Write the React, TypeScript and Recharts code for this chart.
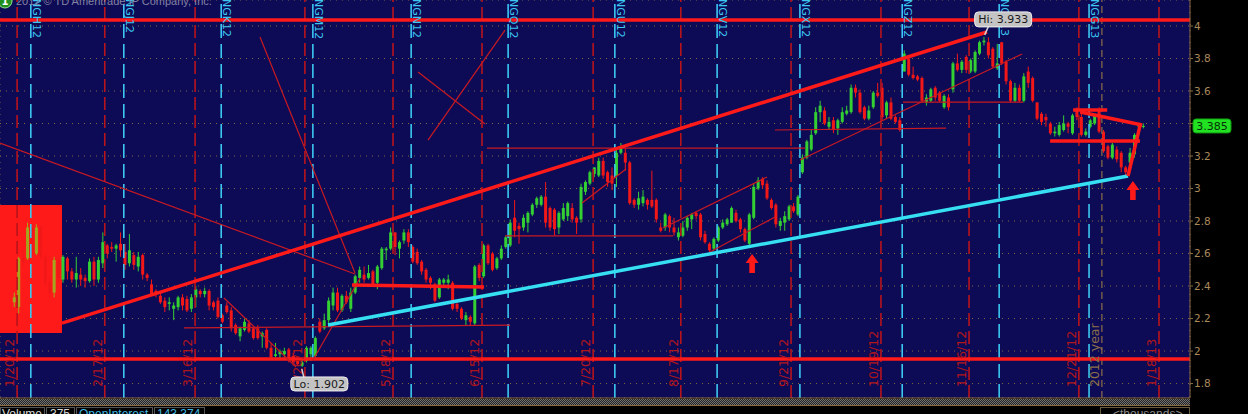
import React from "react";
import {
  ComposedChart,
  Bar,
  XAxis,
  YAxis,
  CartesianGrid,
  ReferenceLine,
  ReferenceArea,
  ReferenceDot,
} from "recharts";

type Seg = [number, number, number, number];

// daily NG bars [open, high, low, close], bar 0 is the week of the 1/20/12 expiry
const bars: [number, number, number, number][] = [
  [2.30, 2.36, 2.27, 2.33], [2.27, 2.58, 2.23, 2.57], [2.57, 2.62, 2.52, 2.55], [2.57, 2.79, 2.56, 2.76],
  [2.76, 2.79, 2.59, 2.62], [2.60, 2.78, 2.59, 2.76], [2.76, 2.77, 2.56, 2.58], [2.58, 2.60, 2.40, 2.42],
  [2.42, 2.45, 2.33, 2.36], [2.36, 2.58, 2.33, 2.56], [2.55, 2.57, 2.43, 2.45], [2.44, 2.59, 2.42, 2.58],
  [2.57, 2.58, 2.44, 2.49], [2.49, 2.51, 2.42, 2.44], [2.44, 2.58, 2.39, 2.48], [2.47, 2.51, 2.40, 2.44],
  [2.45, 2.47, 2.39, 2.43], [2.43, 2.57, 2.42, 2.55], [2.55, 2.58, 2.40, 2.44], [2.44, 2.58, 2.42, 2.56],
  [2.54, 2.73, 2.51, 2.67], [2.65, 2.66, 2.57, 2.60], [2.64, 2.67, 2.61, 2.63], [2.63, 2.66, 2.55, 2.65],
  [2.66, 2.73, 2.58, 2.62], [2.61, 2.66, 2.50, 2.53], [2.54, 2.72, 2.52, 2.62], [2.59, 2.61, 2.50, 2.53],
  [2.52, 2.61, 2.49, 2.58], [2.59, 2.60, 2.44, 2.47], [2.47, 2.48, 2.43, 2.45], [2.41, 2.44, 2.34, 2.35],
  [2.37, 2.38, 2.33, 2.35], [2.34, 2.36, 2.29, 2.30], [2.31, 2.33, 2.24, 2.27], [2.29, 2.33, 2.25, 2.30],
  [2.26, 2.30, 2.19, 2.28], [2.27, 2.34, 2.25, 2.33], [2.33, 2.35, 2.25, 2.28], [2.32, 2.34, 2.24, 2.25],
  [2.26, 2.35, 2.24, 2.33], [2.33, 2.40, 2.27, 2.38], [2.37, 2.38, 2.33, 2.35], [2.35, 2.39, 2.33, 2.37],
  [2.37, 2.38, 2.25, 2.28], [2.30, 2.31, 2.25, 2.27], [2.31, 2.33, 2.20, 2.21], [2.22, 2.23, 2.17, 2.18],
  [2.28, 2.30, 2.23, 2.24], [2.25, 2.27, 2.12, 2.14], [2.16, 2.17, 2.10, 2.11], [2.09, 2.15, 2.06, 2.14],
  [2.13, 2.20, 2.12, 2.18], [2.17, 2.19, 2.11, 2.12], [2.14, 2.15, 2.07, 2.08], [2.14, 2.16, 2.07, 2.08],
  [2.09, 2.12, 2.02, 2.11], [2.13, 2.14, 2.01, 2.02], [2.02, 2.05, 1.96, 1.96], [1.97, 2.05, 1.96, 1.98],
  [1.98, 2.01, 1.95, 2.00], [1.98, 2.02, 1.96, 2.00], [2.01, 2.02, 1.93, 1.95], [1.97, 1.99, 1.91, 1.93],
  [1.95, 1.96, 1.91, 1.92], [1.91, 1.95, 1.902, 1.93], [1.94, 2.03, 1.93, 2.02], [1.98, 2.03, 1.94, 2.02],
  [1.97, 2.09, 1.96, 2.08], [2.18, 2.20, 2.11, 2.12], [2.14, 2.23, 2.13, 2.19], [2.19, 2.33, 2.15, 2.31],
  [2.28, 2.39, 2.25, 2.36], [2.36, 2.39, 2.24, 2.25], [2.25, 2.35, 2.24, 2.34], [2.34, 2.37, 2.29, 2.30],
  [2.26, 2.39, 2.24, 2.36], [2.36, 2.47, 2.35, 2.46], [2.45, 2.52, 2.42, 2.50], [2.47, 2.52, 2.42, 2.44],
  [2.45, 2.53, 2.44, 2.48], [2.49, 2.50, 2.40, 2.41], [2.42, 2.53, 2.38, 2.52], [2.51, 2.64, 2.50, 2.63],
  [2.62, 2.64, 2.56, 2.63], [2.63, 2.76, 2.62, 2.73], [2.73, 2.73, 2.59, 2.64], [2.63, 2.68, 2.57, 2.67],
  [2.68, 2.75, 2.66, 2.73], [2.73, 2.75, 2.64, 2.67], [2.64, 2.65, 2.54, 2.55], [2.61, 2.63, 2.53, 2.54],
  [2.55, 2.56, 2.47, 2.49], [2.50, 2.51, 2.42, 2.44], [2.45, 2.46, 2.38, 2.42], [2.41, 2.42, 2.30, 2.31],
  [2.33, 2.45, 2.32, 2.44], [2.42, 2.45, 2.39, 2.44], [2.42, 2.47, 2.38, 2.44], [2.42, 2.43, 2.25, 2.26],
  [2.29, 2.30, 2.24, 2.26], [2.26, 2.27, 2.19, 2.20], [2.19, 2.24, 2.16, 2.22], [2.21, 2.22, 2.16, 2.18],
  [2.17, 2.53, 2.16, 2.52], [2.53, 2.54, 2.43, 2.45], [2.46, 2.66, 2.45, 2.65], [2.65, 2.66, 2.53, 2.54],
  [2.60, 2.61, 2.49, 2.50], [2.51, 2.58, 2.50, 2.57], [2.57, 2.65, 2.56, 2.63], [2.64, 2.71, 2.63, 2.70],
  [2.65, 2.81, 2.64, 2.79], [2.82, 2.93, 2.70, 2.74], [2.77, 2.79, 2.66, 2.75], [2.76, 2.84, 2.74, 2.82],
  [2.79, 2.86, 2.73, 2.85], [2.84, 2.91, 2.83, 2.90], [2.90, 2.95, 2.88, 2.94], [2.90, 2.96, 2.89, 2.95],
  [2.95, 3.04, 2.76, 2.79], [2.88, 2.89, 2.74, 2.76], [2.87, 2.88, 2.71, 2.75], [2.76, 2.86, 2.72, 2.85],
  [2.81, 2.91, 2.80, 2.88], [2.83, 2.92, 2.80, 2.91], [2.88, 2.91, 2.79, 2.81], [2.82, 2.83, 2.72, 2.79],
  [2.81, 3.03, 2.79, 3.01], [2.98, 3.05, 2.96, 3.04], [3.03, 3.11, 3.02, 3.10], [3.09, 3.13, 3.07, 3.13],
  [3.08, 3.19, 3.07, 3.17], [3.17, 3.19, 3.06, 3.08], [3.10, 3.11, 3.01, 3.04], [3.08, 3.13, 2.99, 3.03],
  [3.08, 3.24, 3.01, 3.22], [3.22, 3.28, 3.21, 3.25], [3.22, 3.25, 3.11, 3.16], [3.16, 3.17, 2.90, 2.91],
  [2.93, 2.94, 2.88, 2.90], [2.90, 2.98, 2.87, 2.94], [2.91, 2.99, 2.89, 2.95], [2.93, 2.94, 2.87, 2.90],
  [2.93, 3.11, 2.88, 2.89], [2.93, 2.94, 2.79, 2.81], [2.76, 2.79, 2.73, 2.74], [2.76, 2.85, 2.74, 2.84],
  [2.83, 2.84, 2.73, 2.76], [2.76, 2.82, 2.71, 2.73], [2.70, 2.76, 2.68, 2.73], [2.71, 2.80, 2.70, 2.76],
  [2.76, 2.83, 2.74, 2.82], [2.81, 2.85, 2.75, 2.84], [2.85, 2.86, 2.81, 2.83], [2.84, 2.85, 2.68, 2.70],
  [2.72, 2.74, 2.66, 2.67], [2.66, 2.67, 2.61, 2.62], [2.63, 2.70, 2.62, 2.69], [2.68, 2.77, 2.67, 2.76],
  [2.76, 2.81, 2.75, 2.79], [2.78, 2.82, 2.77, 2.81], [2.79, 2.89, 2.79, 2.88], [2.85, 2.87, 2.79, 2.80],
  [2.81, 2.82, 2.73, 2.75], [2.75, 2.76, 2.67, 2.68], [2.66, 2.85, 2.65, 2.84], [2.82, 3.03, 2.81, 3.01],
  [3.00, 3.07, 2.99, 3.05], [3.06, 3.07, 3.00, 3.02], [3.03, 3.05, 2.93, 2.94], [2.93, 2.94, 2.87, 2.88],
  [2.90, 2.91, 2.76, 2.78], [2.77, 2.82, 2.74, 2.80], [2.79, 2.86, 2.74, 2.83], [2.81, 2.90, 2.80, 2.89],
  [2.89, 2.91, 2.85, 2.86], [2.84, 2.96, 2.83, 2.95], [3.10, 3.21, 3.09, 3.19], [3.19, 3.30, 3.18, 3.29],
  [3.24, 3.36, 3.23, 3.33], [3.34, 3.50, 3.33, 3.47], [3.47, 3.54, 3.41, 3.51], [3.48, 3.50, 3.39, 3.40],
  [3.38, 3.44, 3.36, 3.41], [3.42, 3.44, 3.34, 3.36], [3.37, 3.43, 3.33, 3.42], [3.41, 3.50, 3.40, 3.47],
  [3.46, 3.51, 3.45, 3.48], [3.47, 3.64, 3.46, 3.62], [3.62, 3.64, 3.56, 3.59], [3.59, 3.61, 3.46, 3.47],
  [3.50, 3.51, 3.42, 3.43], [3.43, 3.51, 3.42, 3.48], [3.50, 3.60, 3.49, 3.59], [3.59, 3.65, 3.56, 3.57],
  [3.62, 3.65, 3.42, 3.44], [3.45, 3.54, 3.43, 3.53], [3.53, 3.56, 3.42, 3.43], [3.44, 3.45, 3.40, 3.41],
  [3.42, 3.44, 3.35, 3.36], [3.72, 3.85, 3.72, 3.83], [3.80, 3.81, 3.69, 3.70], [3.70, 3.75, 3.67, 3.68],
  [3.69, 3.70, 3.66, 3.67], [3.68, 3.69, 3.53, 3.54], [3.53, 3.58, 3.51, 3.56], [3.54, 3.62, 3.53, 3.61],
  [3.62, 3.63, 3.54, 3.56], [3.59, 3.60, 3.53, 3.54], [3.50, 3.58, 3.49, 3.57], [3.56, 3.58, 3.48, 3.50],
  [3.61, 3.78, 3.59, 3.77], [3.77, 3.83, 3.72, 3.73], [3.73, 3.79, 3.71, 3.78], [3.81, 3.82, 3.71, 3.73],
  [3.72, 3.80, 3.71, 3.79], [3.72, 3.85, 3.71, 3.84], [3.83, 3.91, 3.82, 3.90], [3.90, 3.933, 3.88, 3.91],
  [3.90, 3.93, 3.80, 3.82], [3.86, 3.87, 3.74, 3.75], [3.74, 3.89, 3.73, 3.77], [3.90, 3.90, 3.76, 3.77],
  [3.78, 3.79, 3.64, 3.66], [3.66, 3.67, 3.53, 3.54], [3.54, 3.65, 3.53, 3.62], [3.62, 3.64, 3.53, 3.54],
  [3.54, 3.71, 3.53, 3.69], [3.72, 3.75, 3.62, 3.65], [3.68, 3.69, 3.53, 3.54], [3.53, 3.53, 3.42, 3.43],
  [3.46, 3.47, 3.39, 3.41], [3.44, 3.46, 3.38, 3.42], [3.40, 3.41, 3.33, 3.34], [3.34, 3.38, 3.32, 3.35],
  [3.33, 3.41, 3.32, 3.39], [3.36, 3.45, 3.35, 3.40], [3.40, 3.41, 3.34, 3.38], [3.34, 3.46, 3.33, 3.45],
  [3.49, 3.50, 3.42, 3.44], [3.44, 3.46, 3.32, 3.33], [3.33, 3.37, 3.32, 3.35], [3.38, 3.43, 3.37, 3.42],
  [3.40, 3.46, 3.39, 3.45], [3.48, 3.50, 3.34, 3.35], [3.35, 3.36, 3.22, 3.23], [3.26, 3.27, 3.18, 3.19],
  [3.19, 3.28, 3.18, 3.27], [3.24, 3.26, 3.16, 3.18], [3.22, 3.23, 3.10, 3.13], [3.13, 3.14, 3.08, 3.10],
  [3.16, 3.25, 3.14, 3.22], [3.21, 3.34, 3.19, 3.33], [3.38, 3.39, 3.36, 3.39], [3.38, 3.40, 3.37, 3.385],
];

const priceTicks = [1.8, 2, 2.2, 2.4, 2.6, 2.8, 3, 3.2, 3.4, 3.6, 3.8, 4];

// bar positions of the calendar markers
const monthStarts = [7.7, 28.9, 50.6, 71.6, 94.6, 115.9, 137.5, 160.6, 180.5, 203.5, 225.6, 245.7];
const expiryBars = [0.7, 20.5, 40.9, 65.7, 85.6, 105.7, 130.8, 150.6, 175.5, 195.8, 215.7, 240.5, 258.6];
const expiryLabels = [
  "1/20/12", "2/17/12", "3/16/12", "4/20/12", "5/18/12", "6/15/12", "7/20/12",
  "8/17/12", "9/21/12", "10/19/12", "11/16/12", "12/21/12", "1/18/13",
];
const rollBars = [3.8, 24.8, 46.8, 67.5, 89.7, 111.6, 135.7, 158.8, 177.5, 200.6, 222.5, 242.8];
const rollLabels = [
  "NGH12", "NGJ12", "NGK12", "NGM12", "NGN12", "NGQ12",
  "NGU12", "NGV12", "NGX12", "NGZ12", "NGF13", "NGG13",
];
const yearBar = 245.7;

// hand drawn studies: [bar1, price1, bar2, price2]
const levelLines = [4.037, 1.951];
const boxZone: Seg = [-3.16, 2.111, 10.84, 2.898];
const thickLines: Seg[] = [
  [10.84, 2.172, 219.76, 3.963],
  [76.34, 2.406, 106.15, 2.394],
  [234.0, 3.292, 254.3, 3.292],
  [239.2, 3.483, 246.9, 3.483],
  [240.8, 3.471, 254.8, 3.391],
  [251.6, 3.077, 254.3, 3.385],
];
const supportLine: Seg = [70.92, 2.16, 251.6, 3.077];
const thinLines: Seg[] = [
  [-3.16, 3.28, 77.02, 2.474],
  [55.56, 3.932, 77.02, 2.48],
  [91.25, 3.717, 106.38, 3.397],
  [110.9, 3.975, 93.5, 3.298],
  [106.83, 3.249, 178.66, 3.249],
  [38.4, 2.142, 112.03, 2.16],
  [47.43, 2.326, 63.69, 1.902],
  [67.53, 1.945, 78.15, 2.449],
  [110.9, 2.708, 148.84, 2.708],
  [128.29, 2.911, 138.23, 3.12],
  [146.58, 2.757, 170.07, 3.071],
  [157.2, 2.609, 171.88, 2.825],
  [177.53, 3.175, 227.67, 3.828],
  [171.88, 3.36, 210.5, 3.372],
  [200.79, 3.532, 227.89, 3.532],
];
const arrows: [number, number][] = [
  [166.7, 2.597],
  [252.7, 3.046],
];

const X_DOMAIN: [number, number] = [-3.16, 265.6];
const Y_DOMAIN: [number, number] = [1.711, 4.16];
const LABEL_FLOOR = 1.7785;

const data = bars.map(([open, high, low, close], idx) => ({ idx, open, close, range: [low, high] }));
const hiIdx = bars.reduce((b, r, i) => (r[1] > bars[b][1] ? i : b), 0);
const loIdx = bars.reduce((b, r, i) => (r[2] < bars[b][2] ? i : b), 0);
const lastClose = bars[bars.length - 1][3];

const RED = "#ff1a1a";
const DARK_RED = "#b8141c";
const CYAN = "#3cc8f0";
const BROWN = "#7f6a44";
const FONT = "DejaVu Sans";

function Candle(props: any) {
  const { x, y, width, height, payload } = props;
  if (x == null || !payload) return null;
  const [low, high] = payload.range;
  const top = Math.min(y, y + height);
  const h = Math.abs(height);
  const span = high - low;
  const toY = (v: number) => (span > 0 ? top + ((high - v) / span) * h : top);
  const up = payload.close >= payload.open;
  // bars under the red box come through muddy
  const color = up ? (payload.idx <= 10 ? "#a4a61c" : "#33cf33") : "#f21818";
  const yo = toY(payload.open);
  const yc = toY(payload.close);
  const mid = x + width / 2;
  return (
    <g>
      <line x1={mid} x2={mid} y1={top} y2={top + h} stroke={color} strokeWidth={1} />
      <rect x={x} y={Math.min(yo, yc)} width={width} height={Math.max(1, Math.abs(yc - yo))} fill={color} />
    </g>
  );
}

const dateTag = (text: string, color: string) => (p: any) => (
  <text
    x={p.cx - 3}
    y={p.cy}
    transform={`rotate(-90 ${p.cx - 3} ${p.cy})`}
    fill={color}
    fontSize={12.5}
    fontFamily={FONT}
  >
    {text}
  </text>
);

const rollTag = (text: string) => (p: any) => (
  <text
    x={p.cx + 2}
    y={p.cy - 1}
    transform={`rotate(90 ${p.cx + 2} ${p.cy - 1})`}
    fill={CYAN}
    fontSize={11}
    fontFamily={FONT}
  >
    {text}
  </text>
);

const UpArrow = (p: any) => {
  const { cx, cy } = p;
  return (
    <path
      d={`M${cx} ${cy} L${cx + 6.5} ${cy + 9} L${cx + 2.8} ${cy + 9} L${cx + 2.8} ${cy + 19} L${cx - 2.8} ${cy + 19} L${cx - 2.8} ${cy + 9} L${cx - 6.5} ${cy + 9} Z`}
      fill={RED}
    />
  );
};

const HiTag = (p: any) => {
  const { cx, cy } = p;
  return (
    <g>
      <line x1={cx + 5} y1={cy - 11} x2={cx + 1} y2={cy - 2} stroke="#d0d0d0" strokeWidth={1.5} />
      <rect x={cx - 9} y={cy - 25} width={57} height={15} rx={4} fill="#c4c4c4" stroke="#eeeeee" />
      <text x={cx + 19.5} y={cy - 13.5} textAnchor="middle" fontSize={11} fontFamily={FONT} fill="#1a1a1a">
        {`Hi: ${bars[hiIdx][1].toFixed(3)}`}
      </text>
    </g>
  );
};

const LoTag = (p: any) => {
  const { cx, cy } = p;
  return (
    <g>
      <line x1={cx} y1={cy + 2} x2={cx + 2} y2={cy + 10} stroke="#d0d0d0" strokeWidth={1.5} />
      <rect x={cx - 11} y={cy + 10} width={57} height={14} rx={4} fill="#c4c4c4" stroke="#eeeeee" />
      <text x={cx + 17.5} y={cy + 21} textAnchor="middle" fontSize={11} fontFamily={FONT} fill="#1a1a1a">
        {`Lo: ${bars[loIdx][2].toFixed(3)}`}
      </text>
    </g>
  );
};

const LastTag = (p: any) => {
  const { cx, cy } = p;
  return (
    <g>
      <rect x={cx + 3} y={cy - 7} width={38} height={14} rx={3} fill="#22e022" stroke="#119911" />
      <text x={cx + 22} y={cy + 4} textAnchor="middle" fontSize={11} fontFamily={FONT} fill="#063006">
        {lastClose.toFixed(3)}
      </text>
    </g>
  );
};

// the last-price tag sits over whichever axis label it lands on
const priceLabel = (v: number) => (Math.abs(v - lastClose) < 0.08 ? "" : String(v));

function Footer() {
  return (
    <svg width={1248} height={414} style={{ position: "absolute", left: 0, top: 0, pointerEvents: "none" }}>
      <defs>
        <pattern id="hatch" width="2" height="2" patternUnits="userSpaceOnUse">
          <rect width="2" height="2" fill="#262626" />
          <rect width="1" height="1" fill="#707070" />
          <rect x="1" y="1" width="1" height="1" fill="#707070" />
        </pattern>
      </defs>
      <circle cx={5} cy={1} r={7} fill="#1f8f1f" stroke="#8fe08f" />
      <text x={5} y={5} textAnchor="middle" fontSize={10} fontWeight="bold" fill="#fff" fontFamily={FONT}>
        1
      </text>
      <text x={16} y={5} fontSize={11} fill="#8484a4" fontFamily="Liberation Sans">
        2012 © TD Ameritrade IP Company, Inc.
      </text>
      <rect x={0} y={399} width={1190} height={6} fill="url(#hatch)" />
      <line x1={0} x2={1190} y1={405.5} y2={405.5} stroke="#8a6a40" />
      <rect x={0.5} y={407.5} width={44} height={10} fill="none" stroke="#555" />
      <rect x={46.5} y={407.5} width={28} height={10} fill="none" stroke="#555" />
      <rect x={76.5} y={407.5} width={76} height={10} fill="none" stroke="#555" />
      <rect x={154.5} y={407.5} width={50} height={10} fill="none" stroke="#555" />
      <rect x={1100.5} y={407.5} width={89} height={10} fill="none" stroke="#6a5a40" />
      <g fontSize={12} fontFamily="Liberation Sans">
        <text x={2} y={418} fill="#d8d8d8">Volume</text>
        <text x={50} y={418} fill="#d8d8d8">375</text>
        <text x={79} y={418} fill="#3fb8e0">OpenInterest</text>
        <text x={157} y={418} fill="#3fb8e0">143,374</text>
        <text x={1113} y={418} fill="#8a8a8a">{"<thousands>"}</text>
      </g>
    </svg>
  );
}

export default function App() {
  return (
    <div style={{ position: "relative", width: 1248, height: 414, background: "#000", overflow: "hidden" }}>
      <style>{"body{margin:0;background:#000}"}</style>
      <ComposedChart width={1248} height={414} data={data} margin={{ top: 0, right: 0, bottom: 0, left: 0 }}>
        <CartesianGrid stroke={BROWN} strokeDasharray="1 5" fill="#0d0a56" fillOpacity={1} />
        <XAxis
          dataKey="idx"
          type="number"
          domain={X_DOMAIN}
          ticks={monthStarts}
          allowDataOverflow
          height={16}
          tick={false}
          tickSize={-5}
          tickLine={{ stroke: "#8a6a40" }}
          axisLine={{ stroke: "#8a6a40" }}
        />
        <YAxis
          orientation="right"
          type="number"
          domain={Y_DOMAIN}
          ticks={priceTicks}
          allowDataOverflow
          width={58}
          tickSize={3}
          tickMargin={1}
          tickFormatter={priceLabel}
          tick={{ fill: "#a9885a", fontSize: 10.5, fontFamily: FONT }}
          tickLine={{ stroke: "#8a6a40" }}
          axisLine={{ stroke: "#8a6a40" }}
        />
        <ReferenceArea
          x1={boxZone[0]}
          x2={boxZone[2]}
          y1={boxZone[1]}
          y2={boxZone[3]}
          fill="#ff1a1a"
          fillOpacity={1}
          stroke="none"
          ifOverflow="visible"
        />
        <ReferenceLine x={yearBar} stroke="#8a7048" strokeDasharray="7 4" strokeWidth={1.2} />
        {expiryBars.map((b) => (
          <ReferenceLine key={`e${b}`} x={b} stroke={DARK_RED} strokeDasharray="13 5" strokeWidth={1.6} ifOverflow="visible" />
        ))}
        {rollBars.map((b) => (
          <ReferenceLine key={`r${b}`} x={b} stroke={CYAN} strokeDasharray="14 6" strokeWidth={1.6} />
        ))}
        {levelLines.map((v) => (
          <ReferenceLine key={`l${v}`} y={v} stroke={RED} strokeWidth={3.5} />
        ))}
        <Bar dataKey="range" barSize={3} shape={(p: any) => <Candle {...p} />} isAnimationActive={false} />
        {thinLines.map((s, i) => (
          <ReferenceLine
            key={`t${i}`}
            segment={[{ x: s[0], y: s[1] }, { x: s[2], y: s[3] }]}
            stroke="#c81a22"
            strokeWidth={1.2}
            ifOverflow="visible"
          />
        ))}
        <ReferenceLine
          segment={[{ x: supportLine[0], y: supportLine[1] }, { x: supportLine[2], y: supportLine[3] }]}
          stroke="#36e0f2"
          strokeWidth={3.5}
          ifOverflow="visible"
        />
        {thickLines.map((s, i) => (
          <ReferenceLine
            key={`k${i}`}
            segment={[{ x: s[0], y: s[1] }, { x: s[2], y: s[3] }]}
            stroke={RED}
            strokeWidth={3.5}
            ifOverflow="visible"
          />
        ))}
        {arrows.map(([b, v]) => (
          <ReferenceDot key={`a${b}`} x={b} y={v} r={1} shape={UpArrow} ifOverflow="visible" />
        ))}
        {expiryBars.map((b, i) => (
          <ReferenceDot
            key={`el${b}`}
            x={b}
            y={LABEL_FLOOR}
            r={1}
            shape={dateTag(expiryLabels[i], "#b0161c")}
            ifOverflow="visible"
          />
        ))}
        <ReferenceDot x={yearBar} y={LABEL_FLOOR} r={1} shape={dateTag("2012 year", "#8a7048")} ifOverflow="visible" />
        {rollBars.map((b, i) => (
          <ReferenceDot key={`rl${b}`} x={b} y={Y_DOMAIN[1]} r={1} shape={rollTag(rollLabels[i])} ifOverflow="visible" />
        ))}
        <ReferenceDot x={hiIdx} y={bars[hiIdx][1]} r={1} shape={HiTag} ifOverflow="visible" />
        <ReferenceDot x={loIdx} y={bars[loIdx][2]} r={1} shape={LoTag} ifOverflow="visible" />
        <ReferenceDot x={X_DOMAIN[1]} y={lastClose} r={1} shape={LastTag} ifOverflow="visible" />
      </ComposedChart>
      <Footer />
    </div>
  );
}
